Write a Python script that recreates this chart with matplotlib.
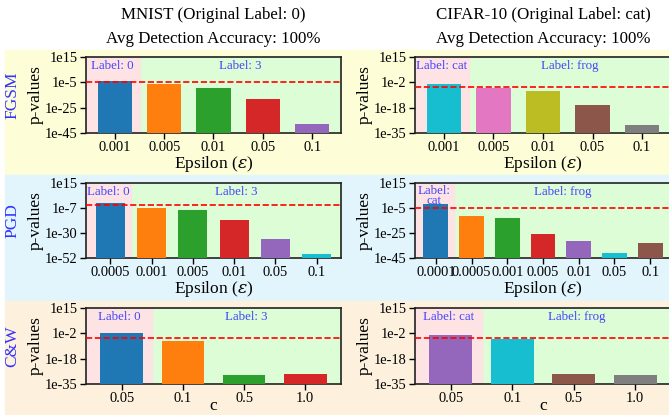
import numpy as np
import matplotlib
matplotlib.use("Agg")
import matplotlib.pyplot as plt
from matplotlib.patches import Rectangle

plt.rcParams['font.family'] = ['Liberation Serif', 'DejaVu Serif']
plt.rcParams['mathtext.fontset'] = 'dejavuserif'

# ---------------- data ----------------
row_names = ["FGSM", "PGD", "C&W"]
col_titles = ["MNIST (Original Label: 0)", "CIFAR-10 (Original Label: cat)"]
acc_titles = ["Avg Detection Accuracy: 100%", "Avg Detection Accuracy: 100%"]
xlabels = ["Epsilon ($\\epsilon$)", "Epsilon ($\\epsilon$)", "c"]
orig_labels = ["Label: 0", "Label: cat"]
adv_labels = ["Label: 3", "Label: frog"]

threshold = 1e-5

# MNIST
mnist_fgsm_x = ["0.001", "0.005", "0.01", "0.05", "0.1"]
mnist_fgsm_p = [1e-4, 10**-6.3, 10**-9.5, 10**-18.2, 10**-38.2]
mnist_pgd_x = ["0.0005", "0.001", "0.005", "0.01", "0.05", "0.1"]
mnist_pgd_p = [10**-2.6, 1e-7, 10**-8.8, 10**-17.8, 10**-34.7, 10**-48.1]
mnist_cw_x = ["0.05", "0.1", "0.5", "1.0"]
mnist_cw_p = [10**-1.3, 10**-6.6, 10**-29.0, 10**-28.4]

# CIFAR-10
cifar_fgsm_x = ["0.001", "0.005", "0.01", "0.05", "0.1"]
cifar_fgsm_p = [1e-3, 10**-5.2, 10**-7.4, 10**-16.8, 1e-30]
cifar_pgd_x = ["0.0001", "0.0005", "0.001", "0.005", "0.01", "0.05", "0.1"]
cifar_pgd_p = [10**-1.5, 10**-11.1, 10**-12.7, 10**-25.5, 10**-31.1, 10**-40.7, 10**-32.7]
cifar_cw_x = ["0.05", "0.1", "0.5", "1.0"]
cifar_cw_p = [10**-2.6, 10**-5.7, 10**-28.4, 10**-29.0]

# y ranges (exponents) and tick labels
ylims = {
    (0, 0): (-45, 15), (0, 1): (-35, 15),
    (1, 0): (-52, 15), (1, 1): (-45, 15),
    (2, 0): (-35, 15), (2, 1): (-35, 15),
}
ytick_labels = {
    (0, 0): ["1e-45", "1e-25", "1e-5", "1e15"],
    (0, 1): ["1e-35", "1e-18", "1e-2", "1e15"],
    (1, 0): ["1e-52", "1e-30", "1e-7", "1e15"],
    (1, 1): ["1e-45", "1e-25", "1e-5", "1e15"],
    (2, 0): ["1e-35", "1e-18", "1e-2", "1e15"],
    (2, 1): ["1e-35", "1e-18", "1e-2", "1e15"],
}

tab = {'blue': '#1f77b4', 'orange': '#ff7f0e', 'green': '#2ca02c', 'red': '#d62728',
       'purple': '#9467bd', 'brown': '#8c564b', 'pink': '#e377c2', 'gray': '#7f7f7f',
       'olive': '#bcbd22', 'cyan': '#17becf'}
colors = {
    (0, 0): ['blue', 'orange', 'green', 'red', 'purple'],
    (0, 1): ['cyan', 'pink', 'olive', 'brown', 'gray'],
    (1, 0): ['blue', 'orange', 'green', 'red', 'purple', 'cyan'],
    (1, 1): ['blue', 'orange', 'green', 'red', 'purple', 'cyan', 'brown'],
    (2, 0): ['blue', 'orange', 'green', 'red'],
    (2, 1): ['purple', 'cyan', 'brown', 'gray'],
}
panels = {
    (0, 0): (mnist_fgsm_x, mnist_fgsm_p), (0, 1): (cifar_fgsm_x, cifar_fgsm_p),
    (1, 0): (mnist_pgd_x, mnist_pgd_p), (1, 1): (cifar_pgd_x, cifar_pgd_p),
    (2, 0): (mnist_cw_x, mnist_cw_p), (2, 1): (cifar_cw_x, cifar_cw_p),
}

# ---------------- layout ----------------
W, H = 669, 415
fig = plt.figure(figsize=(W / 100, H / 100), dpi=100)

row_bg = ['#fdfdd8', '#e2f5fc', '#fdf1de']
row_band = [(50, 175), (175, 301), (301, 416)]
for (y0, y1), c in zip(row_band, row_bg):
    fig.patches.append(Rectangle((5 / W, 1 - y1 / H), 1, (y1 - y0) / H,
                                 transform=fig.transFigure, color=c, zorder=-10))

ax_rows = [(57, 133), (183, 258), (308, 384)]
ax_cols = [(86, 341), (415, 671)]

pink = '#fde3e3'
green = '#dcfdd6'
lab_col = '#4444ff'

for r in range(3):
    for c in range(2):
        (y0, y1), (x0, x1) = ax_rows[r], ax_cols[c]
        ax = fig.add_axes([x0 / W, 1 - y1 / H, (x1 - x0) / W, (y1 - y0) / H])
        xl, pv = panels[(r, c)]
        n = len(xl)
        xs = np.arange(n)
        lo, hi = ylims[(r, c)]
        ax.set_yscale('log')
        bottom = 10.0 ** lo
        ax.bar(xs, np.array(pv) - bottom, bottom=bottom, width=0.7,
               color=[tab[k] for k in colors[(r, c)]], zorder=3)
        ax.set_ylim(10.0 ** lo, 10.0 ** hi)
        ax.set_xlim(-0.585, n - 1 + 0.585)
        ax.set_facecolor(green)
        ax.axvspan(-0.585, 0.5, color=pink, zorder=0)
        ax.axhline(threshold, color='red', ls='--', lw=1.2, zorder=4)
        ax.set_xticks(xs)
        ax.set_xticklabels(xl, fontsize=10.4)
        ax.set_yticks(10.0 ** np.linspace(lo, hi, 4))
        ax.set_yticklabels(ytick_labels[(r, c)], fontsize=10.4)
        ax.yaxis.set_minor_locator(matplotlib.ticker.NullLocator())
        ax.tick_params(length=4, width=1, pad=2)
        for s in ax.spines.values():
            s.set_linewidth(1.2)
            s.set_color('#222222')
        ax.set_ylabel("p-values", fontsize=12.5, labelpad=1)
        ax.set_xlabel(xlabels[r], fontsize=12.5, labelpad=0 if r < 2 else -5)
        # labels at top
        ytxt = 10.0 ** (hi - (hi - lo) * 0.115)
        olab = orig_labels[c]
        if r == 1 and c == 1:
            olab = "Label:\ncat"
            ax.text((-0.585 + 0.5) / 2, 10.0 ** (hi - (hi - lo) * 0.02), olab,
                    ha='center', va='top', fontsize=9.3, color=lab_col,
                    linespacing=0.8, zorder=5)
        else:
            ax.text((-0.585 + 0.5) / 2, ytxt, olab, ha='center', va='center',
                    fontsize=9.3, color=lab_col, zorder=5)
        ax.text((0.5 + n - 1 + 0.585) / 2, ytxt, adv_labels[c], ha='center',
                va='center', fontsize=9.3, color=lab_col, zorder=5)

# column titles
for c in range(2):
    xc = (ax_cols[c][0] + ax_cols[c][1]) / 2 / W
    fig.text(xc, 1 - 15 / H, col_titles[c], ha='center', va='center', fontsize=12.2)
    fig.text(xc, 1 - 39 / H, acc_titles[c], ha='center', va='center', fontsize=12.2)

# row names
for r in range(3):
    yc = 1 - (ax_rows[r][0] + ax_rows[r][1]) / 2 / H
    fig.text(12 / W, yc, row_names[r], rotation=90, ha='center', va='center',
             fontsize=12.5, color='#3333ff')

fig.savefig("out.png", dpi=100)
